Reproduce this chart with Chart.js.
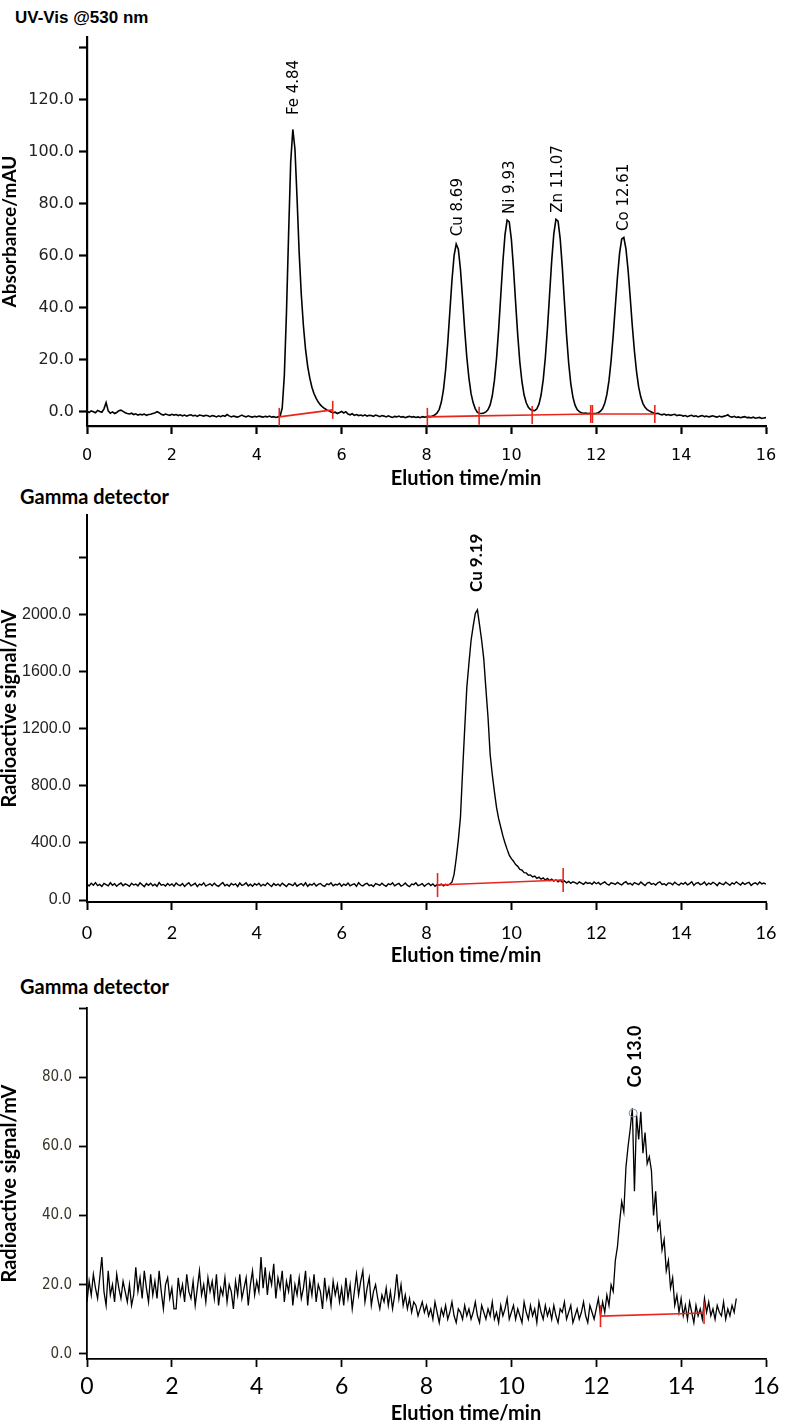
<!DOCTYPE html>
<html lang="en">
<head>
<meta charset="UTF-8">
<title>UV-Vis and gamma chromatograms</title>
<script src="https://cdn.jsdelivr.net/npm/chart.js@4.4.1/dist/chart.umd.min.js"></script>
<style>
    body { margin: 0; background: #fff; }
    #page { position: relative; width: 800px; height: 1427px; }
    canvas { position: absolute; left: 0; }
    .txt { position: absolute; white-space: nowrap; color: #000; transform: translateY(-50%); }
    .uv-title { font: bold 17px 'Liberation Sans', Arial, sans-serif; }
    .g-title { font: bold 20px Lato, sans-serif; }
    .x-title { font: bold 20px Lato, sans-serif; transform: translate(-50%, -50%); }
</style>
</head>
<body>
<div id="page">
    <div class="txt uv-title" style="left:15px; top:18px;">UV-Vis @530 nm</div>
    <canvas id="uv" width="800" height="466" style="top:0px;"></canvas>
    <div class="txt x-title" style="left:466px; top:477px;">Elution time/min</div>

    <div class="txt g-title" style="left:20px; top:496px;">Gamma detector</div>
    <canvas id="cu" width="800" height="470" style="top:480px;"></canvas>
    <div class="txt x-title" style="left:466px; top:954px;">Elution time/min</div>

    <div class="txt g-title" style="left:20px; top:986px;">Gamma detector</div>
    <canvas id="co" width="800" height="445" style="top:960px;"></canvas>
    <div class="txt x-title" style="left:466px; top:1412px;">Elution time/min</div>
</div>

<script>
    // detector sampling interval (min); every trace starts at t = 0
    const step = 0.05;
    const xTicks = [0, 2, 4, 6, 8, 10, 12, 14, 16];

    // ---- UV-Vis @530 nm (mAU), one row per minute ----
    const uvSignal = [
        0.3, -0.2, 0.4, 0.1, -0.3, 0.6, 0.2, -0.1, 1.2, 3.6, 0.4, -0.5, 0.0, -0.6, -0.2, 0.5, 0.7, 0.2, -0.3, -0.6,
        -0.8, -0.5, -1.0, -0.7, -1.2, -0.9, -1.1, -0.8, -1.3, -1.0, -0.9, -0.6, -0.4, 0.1, -0.3, -0.9, -1.2, -0.8, -1.1, -1.3,
        -0.9, -1.2, -1.0, -1.4, -1.1, -1.5, -1.2, -1.6, -1.3, -1.1, -1.5, -1.3, -1.7, -1.2, -1.4, -1.6, -1.3, -1.5, -1.8, -1.4,
        -1.6, -1.9, -1.5, -1.8, -1.4, -1.7, -1.0, -1.5, -1.9, -1.6, -1.8, -2.0, -1.6, -1.2, -1.7, -1.9, -1.5, -1.8, -2.0, -1.7,
        -1.9, -1.6, -1.8, -2.0, -1.7, -1.9, -1.6, -2.0, -1.8, -2.1, -1.9, -1.6, 1.5, 14, 38, 68, 96, 108.5, 101, 82,
        61, 45, 33, 24, 17.5, 13, 9.5, 7, 5.2, 3.8, 2.7, 1.9, 1.3, 0.8, 0.4, 0.0, -0.3, -0.1, -0.6, -0.2,
        0.2, -0.4, 0.1, -0.8, -1.1, -0.7, -1.3, -1.0, -1.4, -1.2, -1.5, -1.1, -1.6, -1.3, -1.4, -1.7, -1.2, -1.5, -1.8, -1.4,
        -1.6, -1.9, -1.5, -1.8, -2.1, -1.7, -1.9, -1.6, -2.0, -1.8, -2.2, -1.9, -1.7, -2.0, -1.8, -2.1, -1.9, -2.2, -1.8, -2.0,
        -1.9, -1.7, -1.8, -1.5, -1.1, -0.4, 1.0, 3.8, 8.6, 16.1, 26.4, 38.5, 50.6, 60.0, 64.5, 62.5, 54.8, 43.5, 31.5, 21.0,
        13.0, 7.0, 3.5, 1.2, -0.2, -0.5, -0.6, -0.4, 0.0, 0.9, 2.7, 6.2, 12.0, 20.5, 31.7, 44.7, 57.7, 68.1, 73.7, 73.0,
        66.3, 55.2, 42.0, 29.5, 19.0, 11.5, 6.5, 3.5, 1.8, 0.9, 0.6, 0.5, 1.2, 3.0, 6.5, 12.3, 20.8, 32.0, 45.0, 58.0,
        68.4, 74.0, 73.3, 66.6, 55.5, 42.3, 29.5, 18.8, 10.9, 5.7, 2.6, 0.9, 0.1, -0.3, -0.5, -0.4, -0.6, -0.5, -0.7, -0.6,
        -0.5, -0.3, 0.3, 1.3, 3.3, 6.7, 12.0, 19.7, 29.5, 40.7, 51.8, 61.0, 66.4, 67.0, 62.6, 54.5, 44.0, 33.0, 23.3, 15.4,
        9.5, 5.7, 3.2, 1.8, 0.9, 0.4, 0.0, -0.4, -0.7, -0.5, -0.9, -1.1, -0.8, -1.2, -1.0, -1.3, -1.1, -0.9, -1.4, -1.2,
        -1.3, -1.6, -1.4, -1.8, -1.5, -1.3, -1.7, -1.5, -1.9, -1.6, -1.4, -1.8, -1.6, -1.9, -1.7, -1.5, -1.8, -2.0, -1.6, -1.9,
        -1.7, -1.5, -1.1, -1.8, -2.0, -1.7, -2.1, -1.9, -2.2, -2.0, -1.8, -2.2, -2.1, -2.3, -2.0, -2.4, -2.2, -2.1, -2.5, -2.3,
        -2.2
    ];
    const uvTicks = [0, 20, 40, 60, 80, 100, 120, 140];
    const uvTickLabels = ['0.0', '20.0', '40.0', '60.0', '80.0', '100.0', '120.0', ''];
    const uvPeakNames = ['Fe 4.84', 'Cu 8.69', 'Ni 9.93', 'Zn 11.07', 'Co 12.61'];
    const uvPeakTimes = [4.89, 8.74, 9.96, 11.10, 12.66];
    const uvPeakLabelAt = [114, 67.5, 76, 76.5, 69.5];
    const uvFeBaseTimes = [4.53, 5.79];
    const uvFeBaseValues = [-1.9, 0.8];
    const uvMainBaseTimes = [8.02, 9.24, 10.49, 11.87, 11.91, 13.38];
    const uvMainBaseValues = [-1.9, -1.5, -1.2, -0.8, -0.8, -0.8];

    // ---- Gamma detector, Cu run (mV) ----
    const cuSignal = [
        112, 98, 118, 104, 122, 101, 109, 95, 116, 108, 99, 121, 103, 114, 97, 110, 119, 100, 113, 106,
        96, 117, 105, 112, 99, 120, 107, 94, 115, 103, 118, 100, 111, 96, 123, 104, 109, 98, 116, 102,
        113, 97, 119, 106, 101, 115, 95, 110, 121, 99, 108, 117, 94, 112, 104, 120, 98, 107, 114, 100,
        118, 103, 96, 111, 122, 100, 109, 97, 116, 105, 113, 95, 119, 102, 108, 121, 99, 111, 96, 114,
        104, 117, 98, 110, 101, 120, 107, 95, 115, 103, 112, 99, 118, 106, 94, 113, 109, 101, 119, 97,
        108, 115, 100, 121, 96, 111, 104, 118, 98, 109, 116, 102, 95, 113, 107, 120, 99, 110, 105, 117,
        97, 112, 103, 119, 100, 108, 114, 96, 121, 105, 99, 111, 117, 101, 106, 94, 115, 109, 102, 118,
        104, 96, 113, 107, 120, 99, 110, 116, 98, 105, 119, 102, 94, 112, 108, 121, 100, 106, 115, 97,
        109, 117, 101, 113, 96, 108, 104, 112, 99, 110, 103, 112, 125, 180, 290, 420, 580, 900, 1200, 1490,
        1660, 1820, 1920, 2010, 2035, 1930, 1820, 1690, 1480, 1280, 1020, 880, 760, 650, 570, 510, 450, 400, 355, 315,
        290, 272, 248, 236, 214, 209, 192, 190, 174, 176, 162, 168, 152, 160, 146, 155, 140, 151, 136, 147,
        133, 142, 128, 139, 126, 134, 120, 131, 117, 128, 122, 113, 127, 118, 109, 125, 116, 121, 110, 126,
        114, 123, 108, 119, 127, 112, 104, 121, 116, 109, 124, 113, 106, 120, 128, 111, 117, 105, 122, 115,
        108, 126, 113, 101, 119, 124, 110, 116, 105, 121, 127, 109, 114, 103, 120, 118, 107, 125, 112, 104,
        119, 111, 123, 106, 115, 128, 102, 117, 122, 108, 113, 126, 104, 119, 110, 124, 116, 101, 121, 113,
        107, 125, 114, 103, 120, 111, 127, 116, 105, 122, 109, 118, 124, 102, 115, 121, 108, 126, 113, 119,
        111
    ];
    const cuTicks = [0, 400, 800, 1200, 1600, 2000, 2400];
    const cuTickLabels = ['0.0', '400.0', '800.0', '1200.0', '1600.0', '2000.0', ''];
    const cuPeakNames = ['Cu 9.19'];
    const cuPeakTimes = [9.19];
    const cuPeakLabelAt = [2160];
    const cuBaseTimes = [8.26, 11.22];
    const cuBaseValues = [105, 140];

    // ---- Gamma detector, Co run (mV) ----
    const coSignal = [
        15, 21, 17, 23, 19, 16, 22, 28, 18, 14, 24, 17, 20, 15, 23, 19, 16, 21, 18, 15,
        20, 14, 17, 25, 18, 22, 16, 24, 19, 15, 23, 17, 21, 16, 24, 18, 13, 20, 22, 16,
        19, 13, 13, 22, 17, 20, 15, 23, 18, 16, 21, 14, 19, 24, 17, 20, 15, 22, 18, 21,
        16, 23, 14, 19, 17, 22, 15, 20, 18, 13, 21, 17, 23, 16, 19, 22, 14, 20, 24, 17,
        21, 18, 28, 19, 25, 17, 23, 20, 26, 16, 22, 19, 24, 15, 21, 18, 23, 14, 20, 17,
        22, 16, 19, 24, 14, 21, 17, 23, 15, 20, 18, 13, 22, 16, 19, 14, 21, 17, 20, 15,
        19, 14, 22, 16, 20, 13, 18, 23, 17, 21, 24, 15, 19, 22, 14, 18, 20, 16, 13, 17,
        15, 19, 14, 18, 13, 17, 23, 16, 20, 14, 17, 13, 16, 12, 15, 14, 11, 13, 15, 12,
        14, 11, 13, 10, 15, 12, 9, 13, 11, 14, 10, 12, 15, 11, 9, 13, 12, 10, 14, 11,
        13, 10, 12, 15, 11, 9, 14, 12, 10, 13, 11, 15, 10, 12, 9, 14, 11, 13, 16, 10,
        12, 14, 10, 13, 11, 9, 15, 12, 10, 14, 11, 13, 9, 15, 12, 10, 14, 11, 13, 10,
        14, 11, 9, 13, 12, 15, 10, 12, 14, 9, 11, 13, 10, 12, 15, 11, 9, 14, 12, 10,
        13, 16, 11, 15, 12, 17, 14, 20, 18, 27, 31, 38, 44, 41, 54, 60, 65, 71, 47, 69,
        62, 70, 58, 64, 55, 57, 53, 40, 47, 36, 38, 30, 33, 24, 27, 19, 22, 14, 17, 12,
        16, 11, 14, 10, 15, 12, 9, 14, 11, 13, 10, 16, 12, 15, 11, 13, 10, 14, 12, 11,
        15, 10, 13, 11, 14, 12, 16
    ];
    const coTicks = [0, 20, 40, 60, 80, 100];
    const coTickLabels = ['0.0', '20.0', '40.0', '60.0', '80.0', ''];
    const coPeakNames = ['Co 13.0'];
    const coPeakTimes = [12.92];
    const coPeakLabelAt = [77];
    const coBaseTimes = [12.10, 14.54];
    const coBaseValues = [10.9, 11.8];
    const coApexTime = [12.87];
    const coApexValue = [69.6];

    const red = '#e8261c';

    function trace(values) {
        return values.map((v, i) => ({ x: i * step, y: v }));
    }

    function pairs(xs, ys) {
        return xs.map((x, i) => ({ x: x, y: ys[i] }));
    }

    // rotated peak names, anchored at (time, value) and reading upwards
    function peakLabels(names, times, values, font) {
        return {
            id: 'peakLabels',
            afterDatasetsDraw(chart) {
                const { ctx, scales: { x, y } } = chart;
                ctx.save();
                ctx.fillStyle = '#000';
                ctx.font = font;
                ctx.textAlign = 'left';
                ctx.textBaseline = 'middle';
                names.forEach((name, i) => {
                    ctx.save();
                    ctx.translate(x.getPixelForValue(times[i]), y.getPixelForValue(values[i]));
                    ctx.rotate(-Math.PI / 2);
                    ctx.fillText(name, 0, 0);
                    ctx.restore();
                });
                ctx.restore();
            }
        };
    }

    function makeChart(id, p) {
        const baselineSets = p.baselines.map(b => ({
            data: b,
            borderColor: red,
            borderWidth: 1.6,
            pointStyle: 'line',
            pointRotation: 90,
            pointRadius: p.tickRadius,
            pointBorderColor: red,
            pointBorderWidth: 1.6,
            order: 0
        }));
        const extra = p.extra || [];
        return new Chart(document.getElementById(id), {
            type: 'line',
            data: {
                datasets: baselineSets.concat(extra, [{
                    data: p.trace,
                    borderColor: '#000',
                    borderWidth: p.lineWidth,
                    pointRadius: 0,
                    tension: 0,
                    order: 2
                }])
            },
            options: {
                responsive: false,
                animation: false,
                events: [],
                layout: { padding: { top: p.padTop, right: 34, left: 0, bottom: 0 } },
                plugins: { legend: { display: false }, tooltip: { enabled: false } },
                scales: {
                    x: {
                        type: 'linear',
                        min: 0,
                        max: 16,
                        afterFit: s => { s.height = p.xHeight; },
                        afterBuildTicks: s => { s.ticks = xTicks.map(v => ({ value: v })); },
                        ticks: {
                            font: p.xFont,
                            color: '#000',
                            padding: p.xPad,
                            maxRotation: 0,
                            autoSkip: false,
                            callback: v => String(v)
                        },
                        grid: { drawOnChartArea: false, tickLength: 8, tickColor: '#000', tickWidth: p.axisWidth },
                        border: { color: '#000', width: p.axisWidth }
                    },
                    y: {
                        min: p.yMin,
                        max: p.yMax,
                        afterFit: s => { s.width = 87; },
                        afterBuildTicks: s => { s.ticks = p.yTicks.map(v => ({ value: v })); },
                        ticks: {
                            font: p.yFont,
                            color: p.yColor,
                            padding: p.yPad,
                            autoSkip: false,
                            callback: (v, i) => p.yLabels[i]
                        },
                        grid: { drawOnChartArea: false, tickLength: 8, tickColor: '#000', tickWidth: p.axisWidth },
                        border: { color: '#000', width: p.axisWidth },
                        title: {
                            display: true,
                            text: p.yTitle,
                            color: '#000',
                            padding: 0,
                            font: { family: 'Lato', weight: 'bold', size: p.yTitleSize, lineHeight: 1.0 }
                        }
                    }
                }
            },
            plugins: [p.labels]
        });
    }

    makeChart('uv', {
        trace: trace(uvSignal),
        baselines: [pairs(uvFeBaseTimes, uvFeBaseValues), pairs(uvMainBaseTimes, uvMainBaseValues)],
        tickRadius: 9,
        lineWidth: 1.6,
        axisWidth: 2.2,
        padTop: 37,
        xHeight: 40,
        xPad: 12,
        xFont: { family: 'DejaVu Sans', size: 16 },
        yMin: -5.4,
        yMax: 144,
        yTicks: uvTicks,
        yLabels: uvTickLabels,
        yFont: { family: 'DejaVu Sans', size: 16 },
        yColor: '#222',
        yPad: 5,
        yTitle: 'Absorbance/mAU',
        yTitleSize: 19,
        labels: peakLabels(uvPeakNames, uvPeakTimes, uvPeakLabelAt, '15px "DejaVu Sans"')
    });

    makeChart('cu', {
        trace: trace(cuSignal),
        baselines: [pairs(cuBaseTimes, cuBaseValues)],
        tickRadius: 12,
        lineWidth: 1.4,
        axisWidth: 2,
        padTop: 35,
        xHeight: 48,
        xPad: 12,
        xFont: { family: 'Lato', size: 18 },
        yMin: -14,
        yMax: 2700,
        yTicks: cuTicks,
        yLabels: cuTickLabels,
        yFont: { family: 'Liberation Sans', size: 16 },
        yColor: '#222',
        yPad: 8,
        yTitle: 'Radioactive signal/mV',
        yTitleSize: 20,
        labels: peakLabels(cuPeakNames, cuPeakTimes, cuPeakLabelAt, 'bold 17px Lato')
    });

    makeChart('co', {
        trace: trace(coSignal),
        baselines: [pairs(coBaseTimes, coBaseValues)],
        extra: [{
            data: pairs(coApexTime, coApexValue),
            showLine: false,
            pointRadius: 4,
            pointBorderColor: '#7d8aa8',
            pointBackgroundColor: 'rgba(0,0,0,0)',
            pointBorderWidth: 1,
            order: 1
        }],
        tickRadius: 11,
        lineWidth: 1.3,
        axisWidth: 1.8,
        padTop: 48,
        xHeight: 46,
        xPad: 6,
        xFont: { family: 'Lato', size: 23 },
        yMin: -1.5,
        yMax: 100,
        yTicks: coTicks,
        yLabels: coTickLabels,
        yFont: { family: "'Liberation Sans Narrow', 'DejaVu Sans Condensed', 'Liberation Sans'", size: 15 },
        yColor: '#3a3428',
        yPad: 7,
        yTitle: 'Radioactive signal/mV',
        yTitleSize: 20,
        labels: peakLabels(coPeakNames, coPeakTimes, coPeakLabelAt, 'bold 18px Lato')
    });
</script>
</body>
</html>
